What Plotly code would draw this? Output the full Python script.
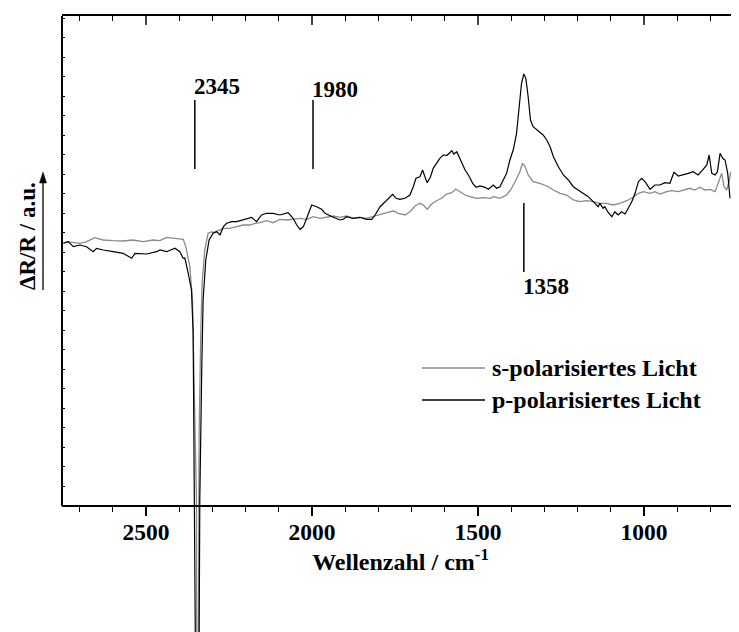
import numpy as np
import plotly.graph_objects as go

# s-polarised spectrum (grey)
s_wn = [2749, 2739, 2699, 2679, 2654, 2629, 2599, 2569, 2539, 2508, 2478, 2458, 2438, 2418, 2388,
        2380, 2368, 2360, 2353, 2348, 2347, 2344.5, 2342, 2341, 2340, 2335, 2331, 2323, 2313, 2302,
        2298, 2267, 2247, 2227, 2207, 2187, 2172, 2157, 2137, 2117, 2097, 2076, 2057, 2036, 2016,
        1996, 1976, 1956, 1936, 1916, 1896, 1876, 1856, 1836, 1816, 1795, 1775, 1755, 1740, 1720,
        1705, 1690, 1675, 1665, 1653, 1640, 1625, 1610, 1595, 1579, 1567, 1554, 1539, 1524, 1504,
        1484, 1464, 1454, 1434, 1414, 1399, 1386, 1374, 1366, 1359, 1349, 1334, 1314, 1293, 1273,
        1253, 1233, 1213, 1193, 1173, 1153, 1133, 1113, 1093, 1073, 1052, 1033, 1017, 1002, 982,
        967, 952, 932, 917, 897, 877, 862, 847, 832, 817, 801, 786, 773, 766, 759, 751, 743, 739]
s_val = [-0.3, 1.3, -0.3, 1.3, 5.3, 3, 2.3, 2, 3, 1.3, 3, 2.3, 5.7, 4.7, 3.7,
         -3.7, -23.7, -57, -157, -257, -400, -600, -400, -257, -190, -90, -40, -7, 9.7, 11.3,
         10.3, 14.7, 14.7, 16.3, 18, 18, 19.7, 20.3, 22.3, 20.3, 23.7, 23, 23.7, 24.7, 23.7,
         26.3, 24.7, 25.7, 27, 25.7, 27, 24.7, 25.7, 24.7, 26.3, 28, 30.3, 32, 29.7, 28,
         31.3, 37, 39.7, 38, 33.7, 39, 42.3, 44.7, 49, 50.3, 54, 51.3, 48, 46.3, 44.7,
         45.3, 44.7, 46.3, 44.7, 48, 54.7, 63, 71.3, 79.7, 77, 68, 61.3, 59.7, 57, 53,
         49.7, 48, 43, 41.3, 42.3, 41.3, 39.7, 39.7, 38, 39.7, 42.3, 45.7, 49.7, 51.3, 49.7,
         51.3, 49, 51.3, 52.3, 51.3, 53, 54.7, 53, 55.7, 53, 53.7, 51.3, 63, 69.7, 56.3, 53, 63, 71.3]

# p-polarised spectrum (black)
p_wn = [2749, 2734, 2719, 2699, 2679, 2659, 2649, 2629, 2599, 2569, 2543, 2533, 2498, 2468, 2458,
        2438, 2413, 2398, 2388, 2383, 2373, 2363, 2358, 2353, 2351, 2346, 2340, 2338, 2332, 2328,
        2320, 2310, 2298, 2287, 2277, 2267, 2257, 2242, 2227, 2212, 2197, 2182, 2167, 2152, 2137,
        2117, 2097, 2082, 2072, 2057, 2046, 2036, 2026, 2016, 2001, 1986, 1971, 1961, 1951, 1936,
        1916, 1906, 1896, 1876, 1856, 1836, 1820, 1810, 1795, 1780, 1765, 1757, 1747, 1735, 1720,
        1705, 1695, 1687, 1675, 1667, 1660, 1653, 1643, 1635, 1625, 1615, 1605, 1593, 1579, 1573,
        1564, 1557, 1549, 1539, 1529, 1516, 1506, 1494, 1479, 1469, 1454, 1444, 1434, 1424, 1414,
        1404, 1394, 1384, 1376, 1369, 1362, 1356, 1349, 1342, 1334, 1319, 1304, 1293, 1283, 1273,
        1258, 1243, 1228, 1213, 1198, 1183, 1168, 1153, 1138, 1133, 1123, 1118, 1108, 1097, 1088,
        1078, 1068, 1057, 1048, 1037, 1027, 1017, 1007, 997, 982, 967, 952, 937, 922, 910,
        897, 882, 867, 852, 837, 822, 811, 804, 796, 786, 779, 771, 763, 756, 748, 741]
p_val = [-0.3, 1.3, -3.7, -2, -3.7, -8.7, -5.3, -7, -8.7, -10.3, -15.3, -10.3, -11, -8.7, -7,
         -8.7, -5.3, -8.7, -15.3, -15, -30, -47, -90, -257, -400, -650, -400, -257, -124, -57,
         -17, 3, 9.7, 11.3, 8, 16.3, 19.7, 21.3, 21.3, 23, 24.7, 25.7, 21.3, 28, 29.7,
         29.7, 28, 29.7, 30.3, 24.7, 18, 13.7, 16.3, 24.7, 38, 36.3, 33.7, 29.7, 28, 25.7,
         23, 23.7, 26.3, 24.7, 25.7, 23.7, 23.7, 28, 36.3, 41.3, 46.3, 48.7, 44.7, 43.7, 44.7,
         48, 56.3, 64.7, 66.3, 73, 66.3, 60.3, 66.3, 74.7, 79.7, 84.7, 88, 87.7, 92.3, 89,
         91.3, 86.3, 81.3, 73, 68, 59.7, 55.7, 57, 55.7, 53.7, 58, 54.7, 56.3, 63, 69.7,
         83, 93, 109.7, 133, 159.7, 169, 164.7, 146.3, 123, 116.3, 112.3, 108, 103, 96.3, 86.3,
         76.3, 68, 63, 56.3, 53, 49.7, 46.3, 41.3, 36.3, 39.7, 34.7, 36.3, 30.5, 26.3, 31.3,
         28, 31.3, 29, 34.7, 41.3, 49.7, 61.3, 64.7, 61.3, 53.7, 58, 58, 60.3, 59.7, 70.7,
         67, 68, 69.7, 71.3, 68, 73.7, 78, 88, 69.7, 68, 71.3, 89.7, 84.7, 83, 69.7, 44.7]

peak_wn = [2353, 1997, 1362]
peak_labels = ["2345", "1980", "1358"]
peak_line_y = [(74, 143), (74, 143), (-29, 40)]
peak_label_y = [157, 154, -43]

x_range = [2753, 714]
y_range = [-389, 227]
axis_pos = 0.2045  # bottom axis sits above the bottom edge, the CO2 dip runs below it

FONT = "Liberation Serif"
GREY = "#8a8a8a"

# page body has an 8px margin, so the figure is 8px smaller and shifted
W, H = 731, 624
ML, MT = 54, 8
PW, PH = W - ML, H - MT


def px(x):
    return (x - 8 - ML) / PW


def py(y):
    return (H - (y - 8)) / PH


fig = go.Figure()
fig.add_trace(go.Scatter(x=s_wn, y=s_val, mode="lines", line=dict(color=GREY, width=1.3),
                         showlegend=False, hoverinfo="skip"))
fig.add_trace(go.Scatter(x=p_wn, y=p_val, mode="lines", line=dict(color="black", width=1.2),
                         showlegend=False, hoverinfo="skip"))
# dummy so the top axis gets drawn
fig.add_trace(go.Scatter(x=[s_wn[0]], y=[s_val[0]], xaxis="x2", mode="none",
                         showlegend=False, hoverinfo="skip"))

# peak markers
for wn, lab, (y0, y1), ly in zip(peak_wn, peak_labels, peak_line_y, peak_label_y):
    fig.add_shape(type="line", x0=wn, x1=wn, y0=y0, y1=y1, xref="x", yref="y",
                  line=dict(color="black", width=1.5))
    fig.add_annotation(x=wn, y=ly, text=lab, showarrow=False, xanchor="left", xshift=-3,
                       font=dict(family=FONT, size=23, color="black", weight="bold"))

# left axis line only down to the bottom axis
fig.add_shape(type="line", xref="paper", yref="paper", x0=0, x1=0, y0=axis_pos, y1=1,
              line=dict(color="black", width=2))

# y label with arrow
fig.add_annotation(xref="paper", yref="paper", x=px(28), y=py(236), text="ΔR/R / a.u.",
                   textangle=-90, showarrow=False, xanchor="center", yanchor="middle",
                   font=dict(family=FONT, size=23, color="black", weight="bold"))
fig.add_shape(type="line", xref="paper", yref="paper", x0=px(43), x1=px(43),
              y0=py(290), y1=py(181), line=dict(color="black", width=1.3))
fig.add_shape(type="path", xref="paper", yref="paper",
              path=f"M {px(39.5)} {py(183)} L {px(46.5)} {py(183)} L {px(43)} {py(172)} Z",
              fillcolor="black", line=dict(color="black", width=0.5))

# hand-made legend
legend_items = [("s-polarisiertes Licht", GREY, 368), ("p-polarisiertes Licht", "black", 400)]
for name, col, ly in legend_items:
    fig.add_shape(type="line", xref="paper", yref="paper", x0=px(422), x1=px(485),
                  y0=py(ly), y1=py(ly), line=dict(color=col, width=1.3))
    fig.add_annotation(xref="paper", yref="paper", x=px(490), y=py(ly), text=name,
                       showarrow=False, xanchor="left", yanchor="middle",
                       font=dict(family=FONT, size=24, color="black", weight="bold"))

yticks = list(np.arange(-262.7 + 19.5, 227, 19.5))

fig.update_layout(
    width=W, height=H,
    margin=dict(l=ML, r=0, t=MT, b=0),
    plot_bgcolor="white", paper_bgcolor="white",
    font=dict(family=FONT, color="black"),
    xaxis=dict(range=x_range, anchor="free", position=axis_pos, showline=True, linewidth=2,
               linecolor="black", ticks="outside", ticklen=9, tickwidth=1.5, tickcolor="black",
               tick0=0, dtick=500, showgrid=False, zeroline=False, ticklabelstandoff=-4,
               minor=dict(ticks="outside", ticklen=5, tickwidth=1.3, dtick=100, tickcolor="black"),
               tickfont=dict(family=FONT, size=23.5, weight="bold"),
               title=dict(text="Wellenzahl / cm<sup>-1</sup>", standoff=2,
                          font=dict(family=FONT, size=24, weight="bold"))),
    xaxis2=dict(range=x_range, overlaying="x", side="top", anchor="y", matches="x",
                showline=True, linewidth=2, linecolor="black", ticks="inside", ticklen=9,
                tickwidth=1.5, tick0=0, dtick=500, showticklabels=False, showgrid=False,
                zeroline=False,
                minor=dict(ticks="inside", ticklen=5, tickwidth=1.3, dtick=100, tickcolor="black")),
    yaxis=dict(range=y_range, showline=False, showgrid=False, zeroline=False,
               ticks="inside", ticklen=3, tickwidth=1.2, tickcolor="black",
               tickvals=yticks, showticklabels=False),
)

fig.write_html("out.html")
